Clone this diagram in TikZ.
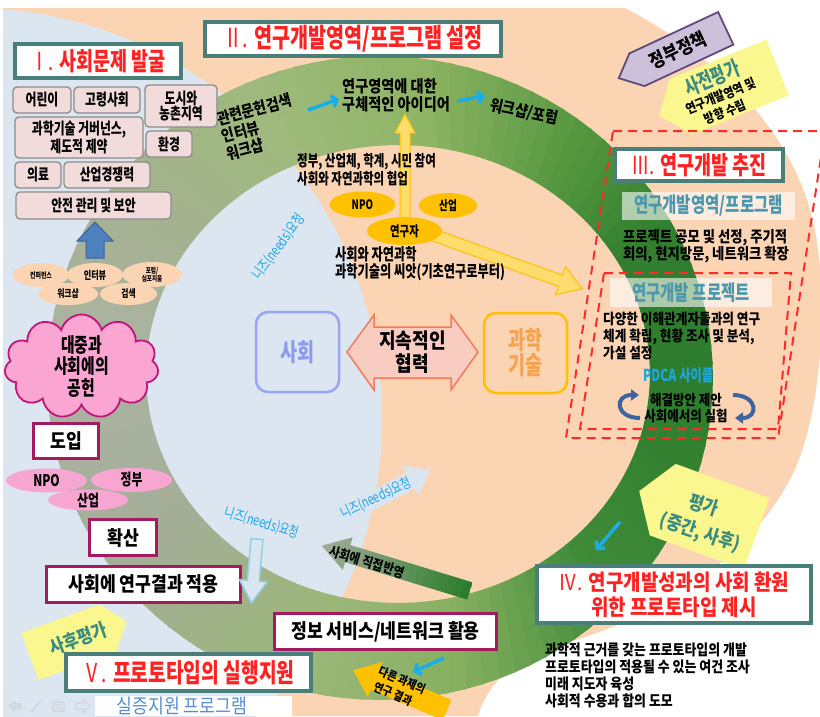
\documentclass[tikz,border=0pt]{standalone}
\usepackage{fontspec}
\setmainfont{Noto Sans CJK KR}
\newfontfamily\hd{Noto Sans CJK KR}[FakeStretch=0.74]
\newfontfamily\md{Noto Sans CJK KR}[FakeStretch=0.86]
\usetikzlibrary{shapes.geometric,shapes.symbols,arrows.meta}
\newcommand\fsz[2]{\fontsize{#1}{#2}\selectfont}
\definecolor{bgblue}{HTML}{DCE6F1}
\definecolor{peachc}{HTML}{FBD4B4}
\definecolor{ttl}{HTML}{4A7F79}
\definecolor{titred}{HTML}{FF2222}
\definecolor{pinkbox}{HTML}{F2DCDB}
\definecolor{pbord}{HTML}{8C8C8C}
\definecolor{arrblue}{HTML}{4F81BD}
\definecolor{arrblued}{HTML}{3A64A0}
\definecolor{cloudpink}{HTML}{FAA5D2}
\definecolor{cloudline}{HTML}{C0157A}
\definecolor{magb}{HTML}{A31A5E}
\definecolor{kellc}{HTML}{F7A6D1}
\definecolor{goldc}{HTML}{FFC000}
\definecolor{goldl}{HTML}{FFDC6E}
\definecolor{cyanar}{HTML}{1AAEE8}
\definecolor{cyantxt}{HTML}{1BA6E4}
\definecolor{lav}{HTML}{CCC0DA}
\definecolor{purpb}{HTML}{5F4A7B}
\definecolor{yelc}{HTML}{FAF78F}
\definecolor{tealtxt}{HTML}{3A8B82}
\definecolor{labtxt}{HTML}{4A97AE}
\definecolor{peri}{HTML}{9AA5F2}
\definecolor{peritxt}{HTML}{8C9BEB}
\definecolor{salmonf}{HTML}{F9CCC2}
\definecolor{salmond}{HTML}{F27B5B}
\definecolor{orangetxt}{HTML}{F7A24F}
\definecolor{redd}{HTML}{FF2A2A}
\definecolor{steel}{HTML}{3C65A0}
\definecolor{grayarr}{HTML}{AAB0A2}
\definecolor{dgreen}{HTML}{2C7D2C}
\definecolor{palebl}{HTML}{D9E5F1}
\definecolor{lcyan}{HTML}{92CFE0}
\definecolor{blueii}{HTML}{5A8ED0}
\definecolor{faint}{HTML}{D3D8DE}
% ring colours
\definecolor{rcA}{HTML}{2E7D2E}
\definecolor{rcB}{HTML}{3F8B38}
\definecolor{rcC}{HTML}{86B060}
\definecolor{rcD}{HTML}{9BB778}
\definecolor{rcE}{HTML}{A4AE96}
\definecolor{rcF}{HTML}{ABB3A3}
\definecolor{rcG}{HTML}{A5B290}
\definecolor{rcH}{HTML}{9FBA7C}
\definecolor{rcI}{HTML}{8DB463}
\definecolor{rcJ}{HTML}{55973F}
\definecolor{rcK}{HTML}{317F2F}
\def\ocx{380}\def\ocy{378}\def\orx{333}\def\ory{322}
\def\icx{398}\def\icy{374}\def\irx{252}\def\iry{229}
\newcommand\ringpart[4]{%
  \pgfmathtruncatemacro\rpB{#1+3}%
  \pgfmathtruncatemacro\rpE{#2-3}%
  \foreach \rt in {#1,\rpB,...,\rpE}{%
    \pgfmathtruncatemacro\rpP{100*(\rt-#1)/(#2-#1)}%
    \colorlet{segc}{#4!\rpP!#3}%
    \pgfmathsetmacro\ru{\rt+3.5}%
    \fill[segc] ({\ocx+\orx*cos(\rt)},{\ocy+\ory*sin(\rt)}) -- ({\ocx+\orx*cos(\ru)},{\ocy+\ory*sin(\ru)}) -- ({\icx+\irx*cos(\ru)},{\icy+\iry*sin(\ru)}) -- ({\icx+\irx*cos(\rt)},{\icy+\iry*sin(\rt)}) -- cycle;
  }}
\begin{document}
\begin{tikzpicture}[x=1pt,y=-1pt,
  title/.style={draw=ttl, line width=3.5pt, fill=white, text=titred, font=\hd\bfseries\fsz{25}{27}, inner sep=0pt, align=center},
  pbox/.style={draw=pbord, line width=1.3pt, fill=pinkbox, rounded corners=4pt, font=\hd\bfseries\fsz{16}{15.5}, align=center, inner sep=0pt},
  mbox/.style={draw=magb, line width=3pt, fill=white, font=\md\bfseries\fsz{20}{22}, inner sep=0pt},
  pell/.style={ellipse, fill=peachc, inner sep=0pt, align=center},
  kell/.style={ellipse, fill=kellc, inner sep=0pt, font=\hd\bfseries\fsz{16}{18}},
  gell/.style={ellipse, fill=goldc, inner sep=0pt, font=\hd\bfseries\fsz{13}{15}},
  body/.style={font=\md\bfseries\fsz{15}{17}, align=left, inner sep=0pt},
  cyarr/.style={draw=cyanar, line width=3.5pt, -{Straight Barb[length=5pt,width=12pt]}},
  needs/.style={text=cyantxt, font=\hd\fsz{14.5}{16}, inner sep=0pt},
  tlab/.style={fill=white, fill opacity=0.6, text opacity=1, text=labtxt, font=\hd\bfseries\fsz{21}{23}, inner sep=0pt},
  rdash/.style={draw=redd, line width=2pt, dash pattern=on 9pt off 6pt},
  sticky/.style={text=tealtxt, font=\md\bfseries\fsz{19}{21}, inner sep=0pt},
  pdcaarr/.style={draw=steel, line width=4pt, -{Triangle[length=8pt,width=11pt]}}
]
\useasboundingbox (0,0) rectangle (820,716);
% ---------- background ----------
\fill[white] (0,0) rectangle (820,716);
\fill[peachc] (3,8) -- (625,8) .. controls (715,55) and (795,130) .. (815,230)
  .. controls (828,300) and (822,400) .. (798,462)
  .. controls (760,555) and (650,625) .. (545,648)
  .. controls (510,660) and (485,690) .. (478,716) -- (3,716) -- cycle;
\begin{scope}
  \clip (3,8) rectangle (820,716);
  \fill[bgblue] (-30,420) circle (412);
\end{scope}
% ---------- ring ----------
\ringpart{0}{45}{rcA}{rcB}
\ringpart{45}{75}{rcB}{rcC}
\ringpart{75}{102}{rcC}{rcD}
\ringpart{102}{141}{rcD}{rcE}
\ringpart{141}{180}{rcE}{rcF}
\ringpart{180}{216}{rcF}{rcG}
\ringpart{216}{246}{rcG}{rcH}
\ringpart{246}{276}{rcH}{rcI}
\ringpart{276}{306}{rcI}{rcJ}
\ringpart{306}{330}{rcJ}{rcK}
\ringpart{330}{360}{rcK}{rcA}
% ---------- faint toolbar ----------
\fill[faint] (8,706) -- (15,700) -- (15,703) -- (22,703) -- (22,709) -- (15,709) -- (15,712) -- cycle;
\draw[faint, line width=2pt] (31,712) -- (41,700);
\draw[faint, line width=1.5pt] (53,702) rectangle (64,711) (55,705) -- (62,705) (55,708) -- (62,708);
\fill[white] (95,696) rectangle (292,716);
\draw[faint, line width=1.5pt] (76,703) -- (83,703) -- (83,700) -- (90,706) -- (83,712) -- (83,709) -- (76,709) -- cycle;
\node[text=blueii, font=\md\fsz{20}{21}, inner sep=0pt] (sj) at (182,705.5) {실증지원 프로그램};
% ---------- left column ----------
\node[pbox, minimum width=58pt, minimum height=26pt] (b1) at (42,100) {어린이};
\node[pbox, minimum width=66pt, minimum height=26pt] (b2) at (107,100) {고령사회};
\node[pbox, minimum width=72pt, minimum height=42pt] (b3) at (181,106) {도시와\\농촌지역};
\node[pbox, minimum width=128pt, minimum height=41pt] (b4) at (79,137.5) {과학기술 거버넌스,\\제도적 제약};
\node[pbox, minimum width=46pt, minimum height=26pt] (b5) at (169,144) {환경};
\node[pbox, minimum width=46pt, minimum height=26pt] (b6) at (38,175) {의료};
\node[pbox, minimum width=86pt, minimum height=26pt] (b7) at (107,175) {산업경쟁력};
\node[pbox, minimum width=155pt, minimum height=27pt] (b8) at (93.5,205.5) {안전 관리 및 보안};
\coordinate (upb) at (95,258);
\coordinate (upt) at (95,222);
\fill[arrblue, draw=arrblued, line width=1pt] (86,258) -- (86,241) -- (77,241) -- (upt) -- (113,241) -- (104,241) -- (104,258) -- cycle;
\node[pell, minimum width=56pt, minimum height=24pt, font=\hd\bfseries\fsz{8}{9}] (e1) at (41,275) {컨퍼런스};
\node[pell, minimum width=59pt, minimum height=25pt, font=\hd\bfseries\fsz{7.5}{8.5}] (e3) at (152,274.5) {포럼/\\심포지움};
\node[pell, minimum width=56pt, minimum height=24pt, font=\hd\bfseries\fsz{11}{12}] (e2) at (95,275) {인터뷰};
\node[pell, minimum width=60pt, minimum height=22pt, font=\hd\bfseries\fsz{10.5}{12}] (e4) at (68,294) {워크샵};
\node[pell, minimum width=57pt, minimum height=22pt, font=\hd\bfseries\fsz{10.5}{12}] (e5) at (128.5,294) {검색};
\node[cloud, cloud puffs=11, cloud ignores aspect, fill=cloudpink, draw=cloudline, line width=1.8pt, minimum width=154pt, minimum height=104pt, inner sep=0pt, font=\hd\bfseries\fsz{20}{21.5}, align=center] (cl) at (81.5,366.5) {대중과\\사회에의\\공헌};
\node[mbox, minimum width=65pt, minimum height=35pt] (d1) at (66,441) {도입};
\node[kell, minimum width=81pt, minimum height=24pt] (k1) at (46.5,480.5) {NPO};
\node[kell, minimum width=81pt, minimum height=24pt] (k2) at (131.5,480) {정부};
\node[kell, minimum width=80pt, minimum height=21pt] (k3) at (88,500) {산업};
\node[mbox, minimum width=67pt, minimum height=36pt] (d2) at (123,537.5) {확산};
\node[mbox, minimum width=194pt, minimum height=36pt] (d3) at (143.5,584.5) {사회에 연구결과 적용};
% sticky: 사후평가
\begin{scope}[shift={(75,640)},rotate=20]
  \fill[yelc] (-48,-25) -- (35,-25) -- (55,0) -- (35,25) -- (-48,25) -- cycle;
\end{scope}
\node[sticky, rotate=20] (post) at (78,639) {사후평가};
% ---------- top ----------
\node[title, minimum width=166pt, minimum height=34pt] (t1) at (98,61) {{\mdseries Ⅰ.} 사회문제 발굴};
\node[title, font=\hd\bfseries\fsz{26.5}{28}, minimum width=296pt, minimum height=34pt] (t2) at (353,39) {{\mdseries Ⅱ.} 연구개발영역/프로그램 설정};
\node[body, font=\md\bfseries\fsz{16}{18}, rotate=15] (lit) at (259,127) {관련문헌검색\\인터뷰\\워크샵};
\node[body, font=\md\bfseries\fsz{16.5}{18}, anchor=west] (idea) at (342,95) {연구영역에 대한\\구체적인 아이디어};
\node[body, font=\md\bfseries\fsz{16}{18}, rotate=-12] (ws) at (524,112) {워크샵/포럼};
\coordinate (c1a) at (308,110); \coordinate (c1b) at (339,99);
\coordinate (c2a) at (457,101); \coordinate (c2b) at (485,96);
\draw[cyarr] (c1a) -- (c1b);
\draw[cyarr] (c2a) -- (c2b);
% yellow arrows
\fill[goldl, draw=goldc, line width=1pt] (400,222) -- (400,133) -- (395,133) -- (405,114) -- (415,133) -- (410,133) -- (410,222) -- cycle;
\begin{scope}[shift={(425,232)},rotate=-19.8]
  \fill[goldl, draw=goldc, line width=1pt] (0,-6) -- (144,-6) -- (144,-15) -- (167,0) -- (144,15) -- (144,6) -- (0,6) -- cycle;
\end{scope}
\node[body, font=\hd\bfseries\fsz{15.5}{18}, anchor=west] (gov) at (297,170) {정부, 산업체, 학계, 시민 참여\\사회와 자연과학의 협업};
\node[gell, minimum width=66pt, minimum height=26pt] (npo) at (362.5,204.5) {NPO};
\node[gell, minimum width=58pt, minimum height=25pt] (ind) at (448,205.5) {산업};
\node[gell, minimum width=75pt, minimum height=28pt, font=\hd\bfseries\fsz{14}{15}] (res) at (404.5,231) {연구자};
\node[body, font=\hd\bfseries\fsz{16.5}{17}, anchor=west] (seed) at (335,264) {사회와 자연과학\\과학기술의 씨앗(기초연구로부터)};
% needs
\node[needs, rotate=53] (n1) at (279,247) {니즈(needs)요청};
% ---------- centre ----------
\node[draw=peri, line width=2.5pt, rounded corners=12pt, minimum width=83pt, minimum height=80pt, text=peritxt, font=\hd\bfseries\fsz{25}{26}, inner sep=0pt] (soc) at (297.5,352) {사회};
\node[draw=goldc, line width=2.5pt, rounded corners=12pt, minimum width=83pt, minimum height=80pt, text=orangetxt, font=\hd\bfseries\fsz{25}{25}, inner sep=0pt, align=center] (sci) at (525.5,353) {과학\\기술};
\fill[salmonf, draw=salmond, line width=1.5pt] (347,352) -- (374,315) -- (374,327) -- (451,327) -- (451,315) -- (478,352) -- (451,390) -- (451,378) -- (374,378) -- (374,390) -- cycle;
\node[font=\md\bfseries\fsz{21}{23}, align=center, inner sep=0pt] (coop) at (412.5,352.5) {지속적인\\협력};
% ---------- right ----------
\begin{scope}[shift={(675,52)},rotate=25]
  \fill[lav, draw=purpb, line width=1.8pt] (-62,0) -- (-42,-18) -- (56,-18) -- (56,18) -- (-42,18) -- cycle;
\end{scope}
\node[font=\md\bfseries\fsz{19}{20}, rotate=25, inner sep=0pt] (pol) at (678,50) {정부정책};
\begin{scope}[shift={(722,90)},rotate=22]
  \fill[yelc] (-68,0) -- (-44,-30) -- (60,-30) -- (60,30) -- (-44,30) -- cycle;
\end{scope}
\node[sticky, font=\hd\bfseries\fsz{21}{22}, rotate=22] (pre) at (712,78) {사전평가};
\node[font=\md\bfseries\fsz{13}{14}, rotate=22, inner sep=0pt] (pre2) at (721,96) {연구개발영역 및};
\node[font=\md\bfseries\fsz{13}{14}, rotate=22, inner sep=0pt] (pre3) at (725,112) {방향 수립};
\draw[rdash] (613,131) -- (825,131) -- (778,438) -- (566,438) -- cycle;
\node[title, minimum width=168pt, minimum height=32pt] (t3) at (699,165) {{\mdseries Ⅲ.} 연구개발 추진};
\node[tlab, minimum width=173pt, minimum height=28pt] (rdl) at (708.5,206) {연구개발영역/프로그램};
\node[body, font=\md\bfseries\fsz{15.5}{17}, anchor=west] (proj) at (623,246) {프로젝트 공모 및 선정, 주기적\\회의, 현지방문, 네트워크 확장};
\draw[rdash] (604,273) -- (791,273) -- (778,429) -- (580,429) -- cycle;
\node[tlab, minimum width=162pt, minimum height=29pt] (rdp) at (691,292.5) {연구개발 프로젝트};
\node[body, font=\md\bfseries\fsz{14.7}{17}, anchor=west] (div) at (603,336) {다양한 이해관계자들과의 연구\\체계 확립, 현황 조사 및 분석,\\가설 설정};
\node[text=cyantxt, font=\hd\bfseries\fsz{16.5}{18}, inner sep=0pt] (pdca) at (678,375) {PDCA 사이클};
\node[font=\md\bfseries\fsz{14.5}{15.5}, align=center, inner sep=0pt] (sol) at (686,408) {해결방안 제안\\사회에서의 실험};
\coordinate (p1a) at (640,418); \coordinate (p1b) at (639,395);
\coordinate (p2a) at (733,395); \coordinate (p2b) at (735,418);
\draw[pdcaarr] (p1a) .. controls (615,418) and (614,395) .. (p1b);
\draw[pdcaarr] (p2a) .. controls (758,395) and (759,418) .. (p2b);
% ---------- bottom right ----------
\begin{scope}[shift={(705,515)},rotate=-20]
  \fill[yelc] (-70,0) -- (-45,-38) -- (55,-38) -- (55,38) -- (-45,38) -- cycle;
\end{scope}
\node[sticky, rotate=-18] (ev1) at (704,505) {평가};
\node[sticky, rotate=-18] (ev2) at (700,533) {(중간, 사후)};
\coordinate (c3a) at (620,522); \coordinate (c3b) at (596,550);
\draw[cyarr] (c3a) -- (c3b);
\node[title, font=\md\bfseries\fsz{22}{25}, minimum width=274pt, minimum height=57pt] (t4) at (674,594.5) {{\mdseries Ⅳ.} 연구개발성과의 사회 환원\\위한 프로토타입 제시};
\node[body, font=\md\bfseries\fsz{15}{17}, anchor=west] (iv) at (545,675) {과학적 근거를 갖는 프로토타입의 개발\\프로토타입의 적용될 수 있는 여건 조사\\미래 지도자 육성\\사회적 수용과 합의 도모};
% ---------- bottom middle ----------
\begin{scope}[shift={(340,518)},rotate=28]
  \fill[palebl] (0,-9) -- (80,-9) -- (80,-17) -- (102,0) -- (80,17) -- (80,9) -- (0,9) -- cycle;
\end{scope}
\node[needs, rotate=25] (n3) at (376,498) {니즈(needs)요청};
\node[needs, rotate=-17] (n2) at (262,523) {니즈(needs)요청};
\begin{scope}[shift={(257,539)},rotate=-95]
  \filldraw[fill=palebl, draw=lcyan, line width=1.5pt] (0,-6) -- (42,-6) -- (42,-14) -- (64,0) -- (42,14) -- (42,6) -- (0,6) -- cycle;
\end{scope}
\begin{scope}[shift={(470,591)},rotate=163]
  \clip (0,-9) -- (128,-9) -- (128,-17) -- (155,0) -- (128,17) -- (128,9) -- (0,9) -- cycle;
  \foreach \i in {0,...,19}{
    \pgfmathtruncatemacro\rpP{\i*5}
    \fill[grayarr!\rpP!dgreen] (\i*8,-20) rectangle (\i*8+8.6,20);
  }
\end{scope}
\node[font=\md\bfseries\fsz{13.5}{15}, rotate=-17, inner sep=0pt] (dir) at (367,562) {사회에 직접반영};
\node[mbox, minimum width=222pt, minimum height=36pt] (d4) at (385.5,631.5) {정보 서비스/네트워크 활용};
\coordinate (c4a) at (444,658); \coordinate (c4b) at (413,672);
\draw[cyarr] (c4a) -- (c4b);
\begin{scope}[shift={(447,710)},rotate=157]
  \fill[goldc] (0,-11) -- (78,-11) -- (78,-19) -- (102,0) -- (78,19) -- (78,11) -- (0,11) -- cycle;
\end{scope}
\node[font=\md\bfseries\fsz{12}{13}, rotate=-23, inner sep=0pt] (oth1) at (402,680) {다른 과제의};
\node[font=\md\bfseries\fsz{12}{13}, rotate=-23, inner sep=0pt] (oth2) at (393,694) {연구 결과};
\node[title, font=\hd\bfseries\fsz{26}{28}, minimum width=245pt, minimum height=37pt] (t5) at (188.5,672.5) {{\mdseries Ⅴ.} 프로토타입의 실행지원};
\end{tikzpicture}
\end{document}
